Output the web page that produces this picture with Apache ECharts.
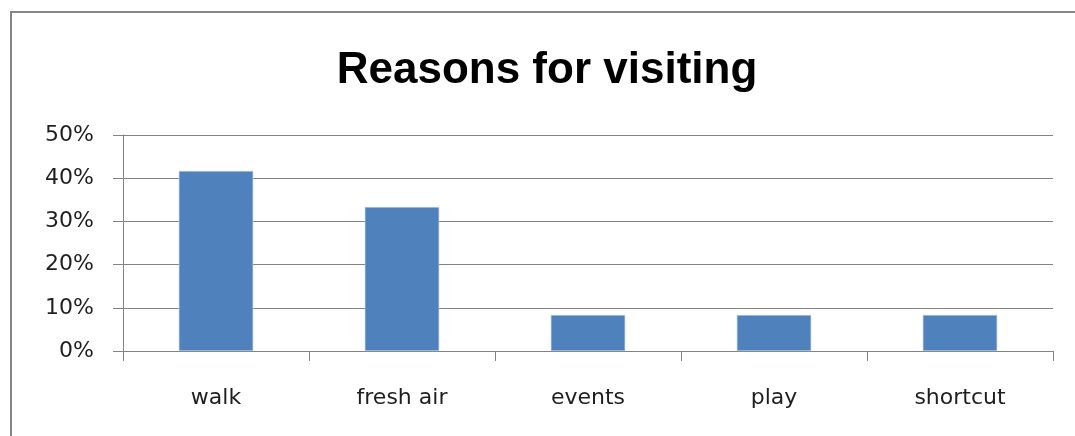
<!DOCTYPE html>
<html>
<head>
<meta charset="utf-8">
<style>
  html, body { margin: 0; padding: 0; background: #ffffff; }
  #chart { width: 1075px; height: 436px; }
</style>
<script src="https://cdn.jsdelivr.net/npm/echarts@6/dist/echarts.min.js"></script>
</head>
<body>
<div id="chart"></div>
<script>
// Survey answers: share of visitors giving each reason (percent)
const categories = ['walk', 'fresh air', 'events', 'play', 'shortcut'];
const shares = [41.67, 33.33, 8.33, 8.33, 8.33];
const titleText = 'Reasons for visiting';

const gridColor = '#838383';
const labelColor = '#1f1f1f';
const barColor = '#4f81bd';

const chart = echarts.init(document.getElementById('chart'), null, { renderer: 'canvas' });

chart.setOption({
  animation: false,
  backgroundColor: '#ffffff',
  graphic: [
    {
      // chart frame
      type: 'rect',
      silent: true,
      shape: { x: 11, y: 12, width: 1200, height: 600 },
      style: { fill: null, stroke: '#868686', lineWidth: 2 }
    },
    {
      type: 'text',
      silent: true,
      style: {
        text: titleText,
        x: 547,
        y: 93,
        align: 'center',
        verticalAlign: 'bottom',
        font: 'bold 44px "Liberation Sans", Arial, sans-serif',
        fill: '#000000'
      }
    }
  ],
  grid: { left: 123, right: 22, top: 135, bottom: 85 },
  xAxis: {
    type: 'category',
    data: categories,
    boundaryGap: true,
    axisLine: { show: true, lineStyle: { color: gridColor, width: 1 } },
    axisTick: { show: true, alignWithLabel: false, length: 10, lineStyle: { color: gridColor } },
    axisLabel: {
      margin: 36,
      color: labelColor,
      fontSize: 22,
      fontFamily: '"DejaVu Sans", sans-serif'
    }
  },
  yAxis: {
    type: 'value',
    min: 0,
    max: 50,
    interval: 10,
    axisLine: { show: true, lineStyle: { color: gridColor, width: 1 } },
    axisTick: { show: true, length: 10, lineStyle: { color: gridColor } },
    splitLine: { show: true, lineStyle: { color: gridColor, width: 1 } },
    axisLabel: {
      margin: 29,
      padding: [4, 0, 0, 0],
      color: labelColor,
      fontSize: 22,
      fontFamily: '"DejaVu Sans", sans-serif',
      formatter: '{value}%'
    }
  },
  series: [
    {
      type: 'bar',
      data: shares,
      barWidth: '40%',
      itemStyle: { color: barColor, borderColor: '#bcd0ea', borderWidth: 0.6 },
      silent: true
    }
  ]
});
</script>
</body>
</html>
